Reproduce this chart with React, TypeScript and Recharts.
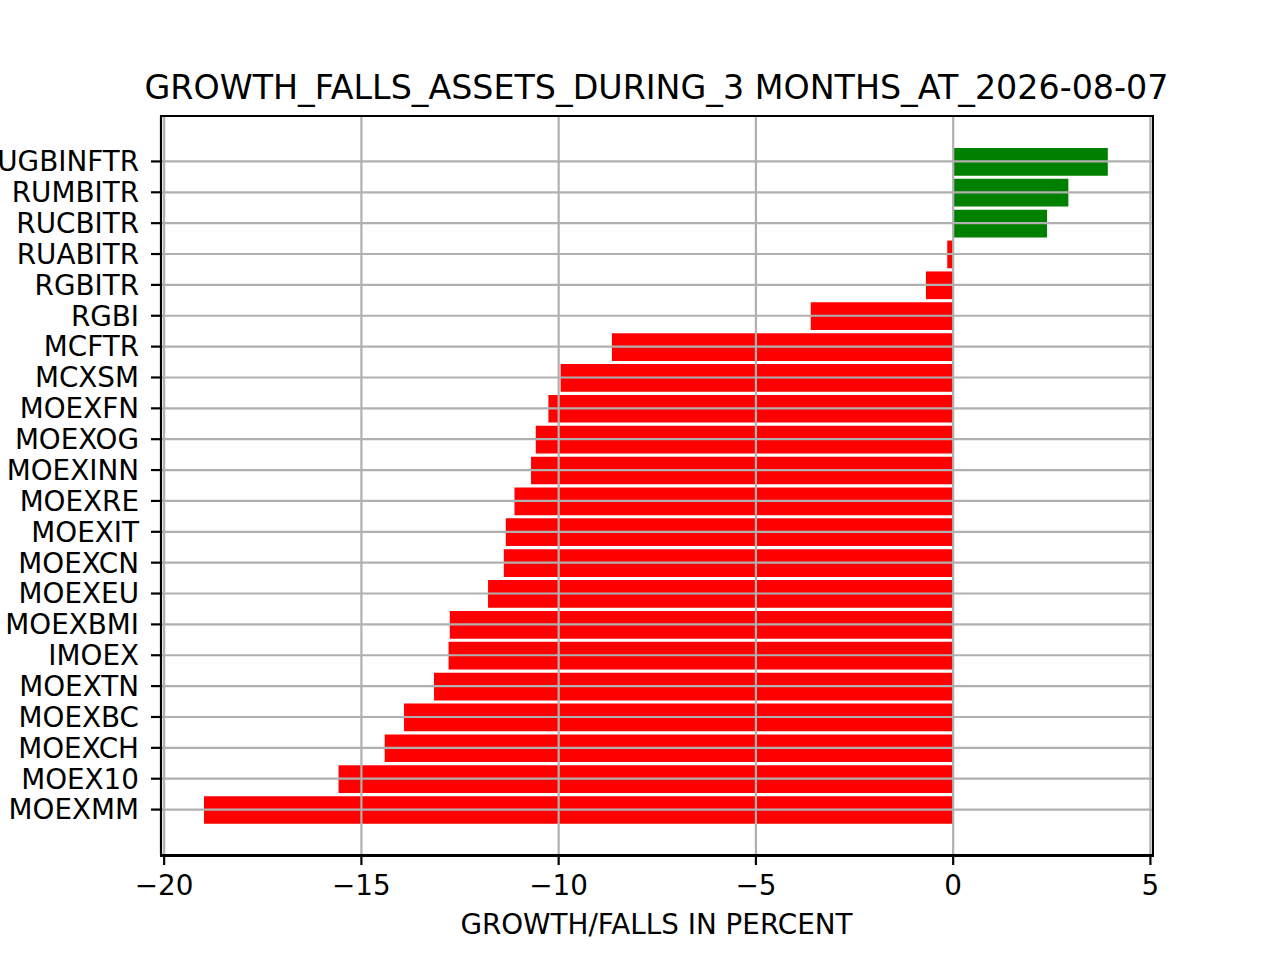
import { Bar, BarChart, Cell, ReferenceLine, XAxis, YAxis } from 'recharts'

// categories top to bottom, values in percent
const assets = [
  'UGBINFTR', 'RUMBITR', 'RUCBITR', 'RUABITR', 'RGBITR', 'RGBI', 'MCFTR', 'MCXSM',
  'MOEXFN', 'MOEXOG', 'MOEXINN', 'MOEXRE', 'MOEXIT', 'MOEXCN', 'MOEXEU', 'MOEXBMI',
  'IMOEX', 'MOEXTN', 'MOEXBC', 'MOEXCH', 'MOEX10', 'MOEXMM'
]
const changes = [
  3.92, 2.92, 2.38, -0.15, -0.69, -3.61, -8.65, -9.95,
  -10.26, -10.58, -10.7, -11.12, -11.34, -11.39, -11.79, -12.76,
  -12.79, -13.16, -13.92, -14.41, -15.58, -18.99
]
const xTicks = [-20, -15, -10, -5, 0, 5]

const data = assets.map((name, i) => ({ name, value: changes[i] }))

const FONT = '"DejaVu Sans", sans-serif'
const GRID = '#b0b0b0'
const LW = 2.2

const fmt = (v: number) => String(v).replace('-', '\u2212')

export default function App() {
  return (
    <div style={{ position: 'absolute', left: 0, top: 0, width: 1280, height: 960, background: '#fff', fontFamily: FONT }}>
      <div style={{ position: 'absolute', left: 0, width: 1313, top: 71, textAlign: 'center', fontSize: 33.3, lineHeight: 1, color: '#000' }}>
        GROWTH_FALLS_ASSETS_DURING_3 MONTHS_AT_2026-08-07
      </div>
      <BarChart
        width={1280}
        height={960}
        data={data}
        layout="vertical"
        margin={{ top: 116, right: 128, bottom: 45, left: 11 }}
      >
        <XAxis
          type="number"
          domain={[-20.08, 5.04]}
          ticks={xTicks}
          allowDataOverflow
          tickFormatter={fmt}
          height={60}
          tickSize={10}
          tickMargin={10}
          axisLine={{ stroke: '#000', strokeWidth: LW }}
          tickLine={{ stroke: '#000', strokeWidth: LW }}
          tick={{ fill: '#000', fontSize: 27.8, fontFamily: FONT }}
        />
        <YAxis
          type="category"
          dataKey="name"
          width={150}
          padding={{ top: 30, bottom: 30 }}
          interval={0}
          tickSize={10}
          tickMargin={12}
          axisLine={{ stroke: '#000', strokeWidth: LW }}
          tickLine={{ stroke: '#000', strokeWidth: LW }}
          tick={{ fill: '#000', fontSize: 27.8, fontFamily: FONT }}
        />
        <Bar dataKey="value" barSize={27.7} isAnimationActive={false}>
          {data.map((d) => (
            <Cell key={d.name} fill={d.value >= 0 ? '#008000' : '#ff0000'} />
          ))}
        </Bar>
        {xTicks.map((t) => (
          <ReferenceLine key={'x' + t} x={t} stroke={GRID} strokeWidth={LW} />
        ))}
        {assets.map((a) => (
          <ReferenceLine key={'y' + a} y={a} stroke={GRID} strokeWidth={LW} />
        ))}
      </BarChart>
      {/* axes frame (top and right spines) */}
      <div
        style={{
          position: 'absolute',
          left: 160,
          top: 115,
          width: 990,
          height: 738,
          border: '2px solid #000',
          pointerEvents: 'none'
        }}
      />
      <div style={{ position: 'absolute', left: 0, width: 1313, top: 911, textAlign: 'center', fontSize: 27.8, lineHeight: 1, color: '#000' }}>
        GROWTH/FALLS IN PERCENT
      </div>
    </div>
  )
}
